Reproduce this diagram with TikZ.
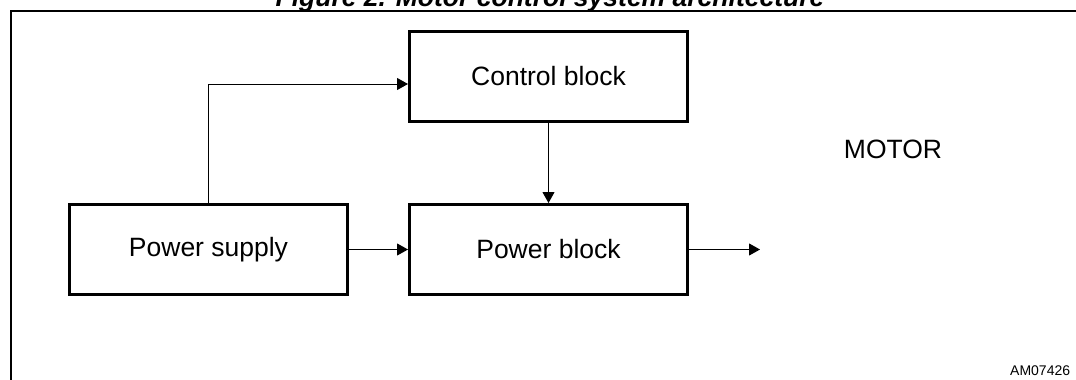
\documentclass[tikz,border=0pt]{standalone}
\usepackage{fontspec}
\setmainfont{Liberation Sans}
\usetikzlibrary{arrows.meta}

\tikzset{
  block/.style={draw, line width=3pt, minimum width=278pt, minimum height=90pt,
    inner sep=0pt, font=\fontsize{26.5}{32}\selectfont},
  link/.style={line width=1pt, -{Triangle[length=11pt,width=12pt]}}
}

\begin{document}
\begin{tikzpicture}[x=1pt,y=-1pt]

\useasboundingbox (0,0) rectangle (1076,380);
\clip (0,0) rectangle (1076,380);

\node[anchor=base, font=\fontsize{26.5}{32}\selectfont\bfseries\itshape] (T) at (550,6) {Figure 2. Motor control system architecture};

\draw[line width=2pt] (10.5,380) -- (10.5,10.5) -- (1076,10.5);

\node[block] (PS) at (208.5,249.5) {Power supply};
\node[block] (PB) at (548.5,249.5) {Power block};
\node[block] (CB) at (548.5,76) {Control block};

\coordinate (OUT) at (760,249.5);

\draw[link] (PS.north) |- ([yshift=-8pt]CB.west);
\draw[link] (CB.south) -- (PB.north);
\draw[link] (PS.east) -- (PB.west);
\draw[link] (PB.east) -- (OUT);

\node[font=\fontsize{26.5}{32}\selectfont] (M) at (893,149) {MOTOR};
\node[anchor=base west, inner sep=0pt, font=\fontsize{14}{16}\selectfont] (ID) at (1010,375) {AM07426};

\end{tikzpicture}
\end{document}
